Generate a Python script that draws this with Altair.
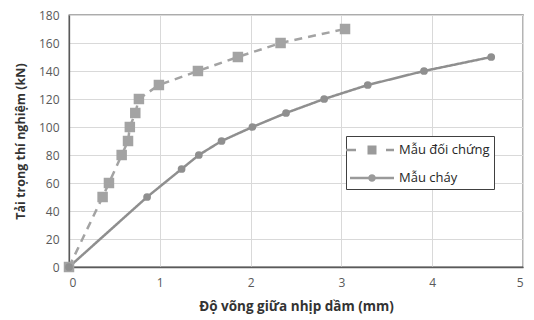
import altair as alt
import pandas as pd

# Series data
ctrl_label = "Mẫu đối chứng"
fire_label = "Mẫu cháy"
ctrl_x = [0, 0.37, 0.44, 0.58, 0.65, 0.67, 0.73, 0.77, 0.99, 1.42, 1.86, 2.33, 3.04]
ctrl_y = [0, 50, 60, 80, 90, 100, 110, 120, 130, 140, 150, 160, 170]
fire_x = [0, 0.86, 1.24, 1.43, 1.68, 2.02, 2.39, 2.81, 3.29, 3.91, 4.65]
fire_y = [0, 50, 70, 80, 90, 100, 110, 120, 130, 140, 150]

x_ticks = [0, 1, 2, 3, 4, 5]
y_ticks = [0, 20, 40, 60, 80, 100, 120, 140, 160, 180]
series = [ctrl_label, fire_label]

rows = []
for i, (x, y) in enumerate(zip(ctrl_x, ctrl_y)):
    rows.append({"s": ctrl_label, "x": x, "y": y, "o": i})
for i, (x, y) in enumerate(zip(fire_x, fire_y)):
    rows.append({"s": fire_label, "x": x, "y": y, "o": i})
df = pd.DataFrame(rows)

FONT = "Open Sans"
c_ctrl = "#a3a3a3"
c_fire = "#8f8f8f"
c_leg = "#9a9a9a"

xenc = alt.X("x:Q", scale=alt.Scale(domain=[0, 5], nice=False),
             axis=alt.Axis(values=x_ticks, title="Độ võng giữa nhịp dầm (mm)",
                           format="d", titlePadding=11, tickCount=6, titleFontSize=13.5))
yenc = alt.Y("y:Q", scale=alt.Scale(domain=[0, 180], nice=False),
             axis=alt.Axis(values=y_ticks, title="Tải trọng thí nghiệm (kN)",
                           titlePadding=11, tickCount=10, titleFontSize=12.5))

base = alt.Chart(df).encode(x=xenc, y=yenc)

color = alt.Color("s:N", scale=alt.Scale(domain=series, range=[c_ctrl, c_fire]), legend=None)

lines = base.mark_line(strokeWidth=2.5).encode(
    color=color, order="o:Q",
    strokeDash=alt.StrokeDash("s:N", scale=alt.Scale(domain=series, range=[[8, 6], [1, 0]]), legend=None),
)

points = base.mark_point(filled=True, opacity=1).encode(
    color=color,
    shape=alt.Shape("s:N", scale=alt.Scale(domain=series, range=["square", "circle"]), legend=None),
    size=alt.Size("s:N", scale=alt.Scale(domain=series, range=[110, 60]), legend=None),
)

# legend symbols drawn as filled paths (unit coords scaled by sqrt(size)/2 = 10 px)
sym_ctrl = ("M-2.6,-0.125H-1.6V0.125H-2.6Z"
            "M-0.45,-0.45H0.45V0.45H-0.45Z"
            "M1.4,-0.125H2.2V0.125H1.4Z")
sym_fire = ("M-2.2,-0.125H-0.3V0.125H-2.2Z"
            "M0.3,-0.125H2.2V0.125H0.3Z"
            "M0.38,0A0.38,0.38 0 1,1 -0.38,0A0.38,0.38 0 1,1 0.38,0Z")

legend_layer = base.transform_filter("false").mark_point(
    filled=True, color=c_leg, opacity=1
).encode(
    shape=alt.Shape("s:N", scale=alt.Scale(domain=series, range=[sym_ctrl, sym_fire]),
                    legend=alt.Legend(
                        title=None, orient="none", legendX=277, legendY=121,
                        symbolSize=400, symbolStrokeWidth=0,
                        symbolFillColor=c_leg, symbolOpacity=1,
                        symbolOffset=12, labelOffset=17, rowPadding=11,
                        padding=4, strokeColor="#404040", fillColor="white",
                        labelFont=FONT, labelFontSize=13, labelColor="#262626",
                        labelLimit=200)),
)

chart = alt.layer(lines, points, legend_layer).resolve_scale(
    shape="independent", color="shared"
).properties(
    width=454, height=252,
    autosize=alt.AutoSizeParams(type="none"),
    padding={"left": 61, "top": 7, "right": 3, "bottom": 50},
    background="white",
).configure_view(
    stroke="#5a5a5a", strokeWidth=1.3
).configure_axis(
    grid=True, gridColor="#d9d9d9", gridWidth=1,
    domain=True, domainColor="#5a5a5a", domainWidth=1.3,
    ticks=False, labelPadding=10,
    labelFont=FONT, labelFontSize=12, labelColor="#595959",
    titleFont=FONT, titleFontWeight="bold", titleColor="#333333",
)

chart.save("out.html", embed_options={"renderer": "svg", "actions": False})
